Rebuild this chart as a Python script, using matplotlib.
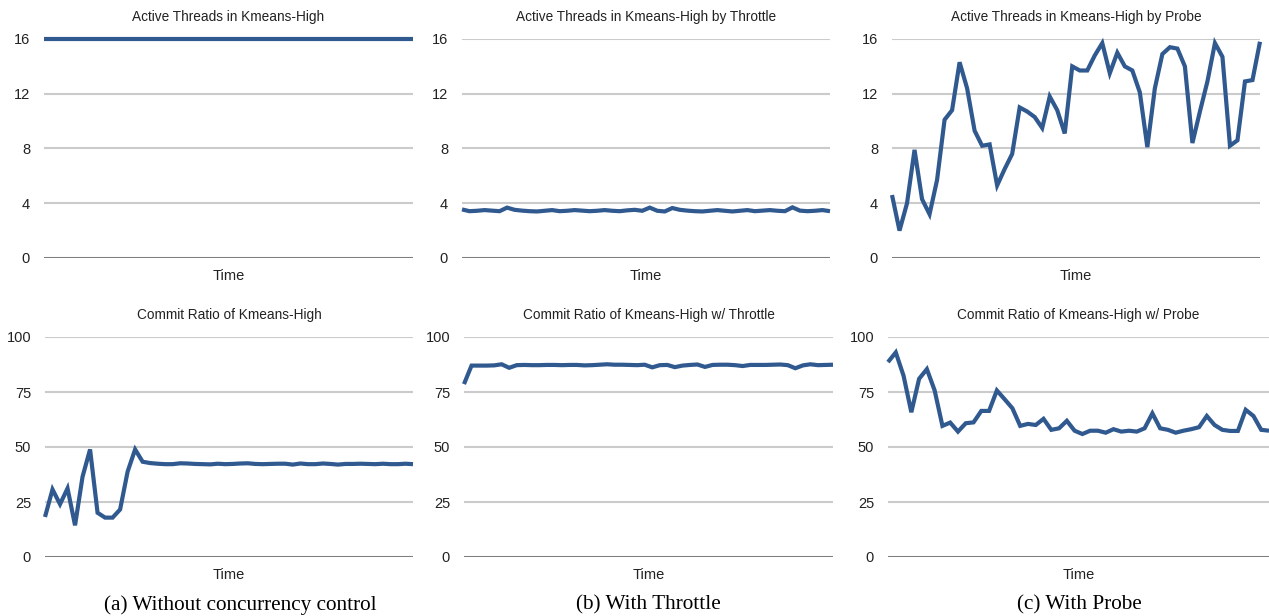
import matplotlib
matplotlib.use("Agg")
import matplotlib.pyplot as plt
import numpy as np

plt.rcParams['font.family'] = ['Liberation Sans', 'DejaVu Sans']

# ---------------- data ----------------
titles_top = ["Active Threads in Kmeans-High",
              "Active Threads in Kmeans-High by Throttle",
              "Active Threads in Kmeans-High by Probe"]
titles_bottom = ["Commit Ratio of Kmeans-High",
                 "Commit Ratio of Kmeans-High w/ Throttle",
                 "Commit Ratio of Kmeans-High w/ Probe"]
captions = ["(a) Without concurrency control", "(b) With Throttle", "(c) With Probe"]

threads_ticks = [0, 4, 8, 12, 16]
ratio_ticks = [0, 25, 50, 75, 100]

threads_none = [16] * 50

threads_throttle = [3.55, 3.42, 3.45, 3.50, 3.46, 3.42, 3.68, 3.52, 3.46, 3.42,
                    3.40, 3.45, 3.50, 3.42, 3.45, 3.50, 3.46, 3.42, 3.45, 3.50,
                    3.45, 3.42, 3.48, 3.52, 3.45, 3.68, 3.45, 3.40, 3.65, 3.52,
                    3.46, 3.42, 3.40, 3.45, 3.50, 3.45, 3.40, 3.45, 3.50, 3.42,
                    3.46, 3.50, 3.45, 3.42, 3.70, 3.46, 3.42, 3.45, 3.50, 3.42]

threads_probe = [4.6, 2.0, 4.0, 7.9, 4.3, 3.2, 5.7, 10.1, 10.8, 14.3,
                 12.4, 9.3, 8.2, 8.3, 5.3, 6.5, 7.6, 11.0, 10.7, 10.3,
                 9.5, 11.8, 10.8, 9.1, 14.0, 13.7, 13.7, 14.8, 15.7, 13.5,
                 15.0, 14.0, 13.7, 12.1, 8.1, 12.4, 14.9, 15.4, 15.3, 14.0,
                 8.4, 10.7, 12.9, 15.7, 14.7, 8.2, 8.6, 12.9, 13.0, 15.8]

ratio_none = [18.2, 30.7, 24.0, 31.2, 14.4, 36.5, 48.9, 20.1, 17.9, 17.9,
              21.6, 38.8, 48.9, 43.3, 42.7, 42.4, 42.2, 42.2, 42.6, 42.5,
              42.3, 42.2, 42.1, 42.4, 42.2, 42.3, 42.5, 42.6, 42.3, 42.2,
              42.3, 42.4, 42.4, 42.0, 42.5, 42.2, 42.2, 42.5, 42.3, 42.0,
              42.3, 42.3, 42.4, 42.3, 42.2, 42.4, 42.2, 42.2, 42.4, 42.2]

ratio_throttle = [78.6, 87.0, 87.0, 87.0, 87.1, 87.6, 86.0, 87.2, 87.3, 87.2,
                  87.2, 87.3, 87.3, 87.2, 87.3, 87.3, 87.1, 87.2, 87.4, 87.6,
                  87.4, 87.4, 87.3, 87.2, 87.4, 86.2, 87.2, 87.3, 86.3, 87.0,
                  87.3, 87.5, 86.4, 87.3, 87.4, 87.4, 87.2, 86.8, 87.3, 87.3,
                  87.3, 87.4, 87.5, 87.2, 85.8, 87.1, 87.6, 87.2, 87.3, 87.4]

ratio_probe = [88.6, 93.0, 82.4, 65.8, 81.0, 85.4, 75.7, 59.6, 61.1, 57.0,
               60.8, 61.2, 66.4, 66.4, 75.7, 71.7, 67.6, 59.6, 60.5, 60.0,
               62.8, 57.8, 58.5, 61.9, 57.4, 55.9, 57.4, 57.4, 56.5, 58.1,
               57.0, 57.4, 57.0, 58.5, 65.3, 58.5, 57.8, 56.5, 57.4, 58.1,
               59.0, 64.1, 60.0, 57.8, 57.3, 57.3, 66.9, 64.1, 57.8, 57.4]

# ---------------- layout ----------------
W, H = 1269, 616
fig = plt.figure(figsize=(W / 100, H / 100), dpi=100)

top_cols = [(44, 413), (462, 830), (892, 1260)]
bot_cols = [(45, 413), (464, 833), (888, 1269)]
top_y = (39, 258)
bot_y = (337, 557)

LINE = "#30598f"
GRID = "#cbcbcb"
ZERO = "#7e7e7e"
TXT = "#222222"


def make_ax(xr, yr):
    x0, x1 = xr
    yt, yb = yr
    return fig.add_axes([x0 / W, 1 - yb / H, (x1 - x0) / W, (yb - yt) / H])


def style(ax, data, ticks, title):
    x = np.arange(len(data))
    for t in ticks[1:]:
        ax.axhline(t, color=GRID, lw=1.5, zorder=1)
    ax.axhline(ticks[0], color=ZERO, lw=2.2, zorder=1)
    ax.plot(x, data, color=LINE, lw=3.0, solid_joinstyle='miter',
            solid_capstyle='butt', zorder=3, clip_on=False)
    ax.set_xlim(0, len(data) - 1)
    ax.set_ylim(ticks[0], ticks[-1])
    ax.set_yticks(ticks)
    ax.set_yticklabels([str(t) for t in ticks])
    ax.set_xticks([])
    for s in ax.spines.values():
        s.set_visible(False)
    ax.tick_params(axis='y', length=0, pad=10, labelsize=10.5, labelcolor=TXT)
    ax.set_title(title, fontsize=9.8, color=TXT, pad=13)
    ax.set_xlabel("Time", fontsize=10.5, color=TXT, labelpad=8)
    ax.set_facecolor('none')


top_data = [threads_none, threads_throttle, threads_probe]
bot_data = [ratio_none, ratio_throttle, ratio_probe]

for i in range(3):
    ax = make_ax(top_cols[i], top_y)
    style(ax, top_data[i], threads_ticks, titles_top[i])
    ax = make_ax(bot_cols[i], bot_y)
    style(ax, bot_data[i], ratio_ticks, titles_bottom[i])

caption_x = [240, 648, 1079]
for cx, cap in zip(caption_x, captions):
    fig.text(cx / W, 1 - 605 / H, cap, ha='center', va='center',
             fontsize=15.3, family=['Liberation Serif', 'DejaVu Serif'], color='black')

fig.savefig("out.png", dpi=100, facecolor='white')
